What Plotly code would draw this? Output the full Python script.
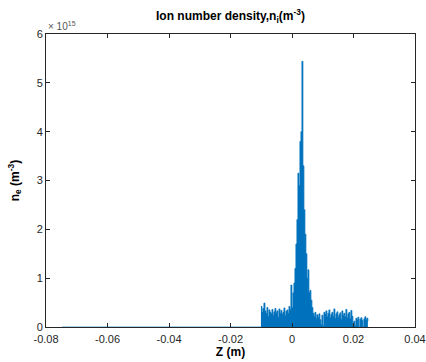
import numpy as np
import plotly.graph_objects as go

# Ion density profile along Z, in units of 1e15 m^-3, on a uniform Z grid
z_start = -0.0101          # first bin centre (m)
z_step = 0.000325          # bin spacing (m)
n_e = [
    # upstream background
    0.42, 0.30, 0.38, 0.49, 0.33, 0.28, 0.40, 0.22, 0.35, 0.30,
    0.27, 0.36, 0.24, 0.31, 0.38, 0.29, 0.33, 0.20, 0.37, 0.28,
    0.34, 0.26, 0.30, 0.39, 0.23, 0.32, 0.35, 0.28, 0.42, 0.36,
    # isolated spike and rising edge
    0.86, 0.40,
    0.70, 0.90, 1.20, 1.70, 2.20, 3.15, 2.90, 3.80, 4.00, 5.44,
    3.30, 2.40, 1.90, 1.50, 1.00, 1.17, 0.70, 0.75, 0.55, 0.40,
    # downstream background
    0.28, 0.22, 0.30, 0.18, 0.25, 0.20, 0.27, 0.15, 0.05, 0.24,
    0.02, 0.30, 0.26, 0.33, 0.21, 0.28, 0.35, 0.19, 0.26, 0.30,
    0.22, 0.37, 0.18, 0.27, 0.31, 0.20, 0.25, 0.29, 0.16, 0.33,
    0.24, 0.28, 0.21, 0.36, 0.19, 0.27, 0.30, 0.17, 0.34, 0.22,
    # tail
    0.03, 0.12, 0.02, 0.18, 0.15, 0.20, 0.00, 0.16, 0.19, 0.14,
    0.00, 0.17, 0.21, 0.15, 0.18, 0.12,
]
# empty upstream region (zero density)
z_empty = [-0.0748, -0.0101]
n_empty = [0.0, 0.0]

scale = 1e15
y_ticks = [0, 1, 2, 3, 4, 5, 6]
x_ticks = [-0.08, -0.06, -0.04, -0.02, 0, 0.02, 0.04]

z = z_start + z_step * np.arange(len(n_e))
n = np.array(n_e) * scale

fig = go.Figure()
fig.add_trace(go.Scatter(
    x=z_empty, y=np.array(n_empty) * scale, mode="lines",
    line=dict(color="#4fa8d8", width=1.2), hoverinfo="skip",
))
fig.add_trace(go.Scatter(
    x=z, y=n, mode="lines", line_shape="hv",
    line=dict(color="#0072BD", width=0.8),
    fill="tozeroy", fillcolor="#0072BD",
))

font_family = "Liberation Sans, Arial"
axis_common = dict(
    showgrid=False, zeroline=False, showline=True, linecolor="#262626",
    linewidth=1, mirror="ticks", ticks="inside", ticklen=4,
    tickcolor="#262626", automargin=False,
    tickfont=dict(family=font_family, size=11, color="#262626"),
)

fig.update_layout(
    width=426, height=362,
    margin=dict(l=46, r=11, t=34, b=35),
    paper_bgcolor="white", plot_bgcolor="white",
    showlegend=False,
    title=dict(
        text="<b>Ion number density,n<sub>i</sub>(m<sup>-3</sup>)</b>",
        x=0.541, xanchor="center", y=0.955, yanchor="middle",
        font=dict(family=font_family, size=12, color="black"),
    ),
    xaxis=dict(
        range=[-0.08, 0.04], tickvals=x_ticks,
        ticktext=[f"{v:g}" for v in x_ticks],
        ticklabelstandoff=2,
        title=dict(text="<b>Z (m)</b>", standoff=3,
                   font=dict(family=font_family, size=12, color="black")),
        **axis_common,
    ),
    yaxis=dict(
        range=[0, 6 * scale], tickvals=[v * scale for v in y_ticks],
        ticktext=[str(v) for v in y_ticks],
        title=dict(text="<b>n<sub>e</sub> (m<sup>-3</sup>)</b>", standoff=14,
                   font=dict(family=font_family, size=12, color="black")),
        **axis_common,
    ),
    annotations=[dict(
        text="\u00d7 10<sup>15</sup>", xref="paper", yref="paper",
        x=0, y=1, xanchor="left", yanchor="bottom", showarrow=False,
        font=dict(family=font_family, size=10, color="#555555"),
    )],
)

fig.write_html("out.html")
